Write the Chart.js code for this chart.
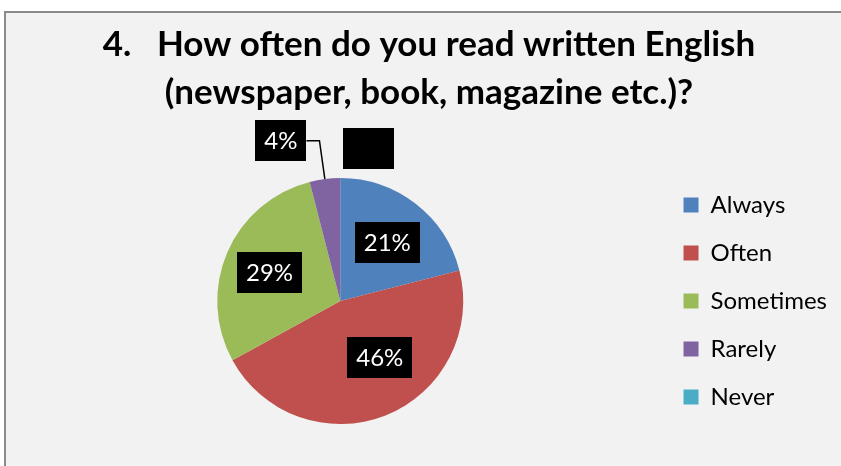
<!DOCTYPE html>
<html><head><meta charset="utf-8">
<script src="https://cdn.jsdelivr.net/npm/chart.js@4/dist/chart.umd.min.js"></script>
<style>
html,body{margin:0;padding:0;background:#fff;width:841px;height:466px;overflow:hidden}
#frame{position:absolute;left:4px;top:11px;width:900px;height:520px;background:#f2f2f2;border:2px solid #8a8a8a;box-sizing:border-box}
#wrap{position:absolute;left:0;top:0;width:841px;height:466px}
</style></head><body>
<div id="frame"></div>
<div id="wrap"><canvas id="c" width="841" height="466"></canvas></div>
<script>
const categories = ['Always', 'Often', 'Sometimes', 'Rarely', 'Never'];
const values = [21, 46, 29, 4, 0];
const valueLabels = ['21%', '46%', '29%', '4%', '0%'];
const colors = ['#4F81BD', '#C0504D', '#9BBB59', '#8064A2', '#4BACC6'];
const titleLines = ['4.   How often do you read written English', '(newspaper, book, magazine etc.)?'];

// label placement (fraction of radius, angular shift in degrees)
const labelRadius = [0.61, 0.56, 0.62, 1.39, 1.26];
const labelShift = [1, -13.4, -1.4, -13.1, 10.6];
const labelTextColor = ['#fff', '#fff', '#fff', '#fff', '#000'];
const labelLeader = [false, false, false, true, false];

const boxLabels = {
  id: 'boxLabels',
  afterDatasetsDraw(chart) {
    const ctx = chart.ctx;
    const meta = chart.getDatasetMeta(0);
    ctx.save();
    ctx.font = '24px Lato';
    ctx.textAlign = 'center';
    ctx.textBaseline = 'middle';
    meta.data.forEach((arc, i) => {
      const p = arc.getProps(['x', 'y', 'startAngle', 'endAngle', 'outerRadius'], true);
      const realMid = (p.startAngle + p.endAngle) / 2;
      const mid = realMid + labelShift[i] * Math.PI / 180;
      const cx = p.x + Math.cos(mid) * p.outerRadius * labelRadius[i];
      const cy = p.y + Math.sin(mid) * p.outerRadius * labelRadius[i];
      const tw = ctx.measureText(valueLabels[i]).width;
      const w = Math.round(tw + 18), h = 41;
      if (labelLeader[i]) {
        const ex = p.x + Math.cos(realMid) * p.outerRadius;
        const ey = p.y + Math.sin(realMid) * p.outerRadius;
        ctx.strokeStyle = '#000';
        ctx.lineWidth = 1.5;
        ctx.beginPath();
        ctx.moveTo(cx + w / 2, cy);
        ctx.lineTo(cx + w / 2 + 13, cy);
        ctx.lineTo(ex, ey);
        ctx.stroke();
      }
      ctx.fillStyle = '#000';
      ctx.fillRect(Math.round(cx - w / 2), Math.round(cy - h / 2), w, h);
      ctx.fillStyle = labelTextColor[i];
      ctx.fillText(valueLabels[i], cx, cy + 1);
    });
    ctx.restore();
  }
};

new Chart(document.getElementById('c'), {
  type: 'pie',
  data: {
    labels: categories,
    datasets: [{
      data: values,
      backgroundColor: colors,
      borderWidth: 0,
      radius: 123
    }]
  },
  options: {
    responsive: false,
    animation: false,
    layout: { padding: { left: 21, right: 4, top: 0, bottom: 4 } },
    plugins: {
      title: {
        display: true,
        text: titleLines,
        color: '#000',
        font: { family: 'Lato', size: 35, weight: 'bold', lineHeight: 1.372 },
        padding: { top: 21, bottom: 23 }
      },
      legend: {
        position: 'right',
        fullSize: false,
        labels: {
          boxWidth: 15,
          boxHeight: 15,
          padding: 24,
          color: '#000',
          font: { family: 'Lato', size: 24 }
        }
      },
      tooltip: { enabled: false }
    }
  },
  plugins: [boxLabels]
});
</script>
</body></html>
